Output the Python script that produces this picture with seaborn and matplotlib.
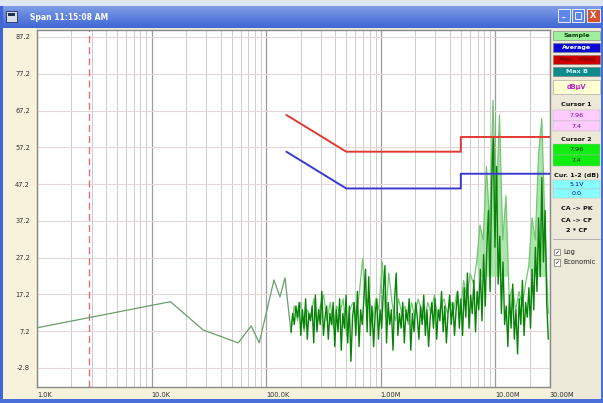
import numpy as np
import pandas as pd
import matplotlib
matplotlib.use("Agg")
import matplotlib.pyplot as plt
from matplotlib.patches import Rectangle
from matplotlib.ticker import FixedLocator, NullFormatter
import seaborn as sns

# ---- axis ticks -------------------------------------------------------------
y_ticks = [-2.8, 7.2, 17.2, 27.2, 37.2, 47.2, 57.2, 67.2, 77.2, 87.2]
x_ticks_hz = [1e3, 1e4, 1e5, 1e6, 1e7, 3e7]
x_tick_labels = ["1.0K", "10.0K", "100.0K", "1.00M", "10.00M", "30.00M"]

# ---- low-frequency part of the trace (kHz, dBuV) -----------------------------
low_freq_khz = [1.0, 14.6, 28.2, 57, 74, 87, 117, 132, 146, 165]
low_level_db = [8.1, 15.2, 7.5, 4.0, 8.6, 4.0, 21.1, 16.5, 21.7, 6.7]

# ---- swept trace 165 kHz .. 29 MHz (dBuV) -----------------------------------
scan_level_db = [
    7, 12, 9, 14, 11,
    15, 6, 13, 8, 16, 5, 12, 10, 14, 4, 17, 7, 13, 9, 18, 6, 11, 14, 5, 12,
    9, 15, 3, 13, 7, 16, 2, 12, 8, 17, 4, 14, -1, 11, 15, 6, 18, 3, 13, 9,
    16, 24, 7, 22,
    6, 14, 3, 12, 16, 5, 13, 8, 18, 25, 4, 15, 9, 13, 2, 16, 23, 6, 12,
    8, 15, 4, 13, 10, 16, 2, 12, 7, 15, 11, 5, 14, 9, 17, 6, 13, 3, 11, 15,
    8, 16, 5, 13, 10, 18, 7, 14, 4, 12, 17, 9, 15, 6, 13, 18, 8,
    16, 6, 19, 11, 23, 8, 17, 12, 21, 7, 18, 13, 24,
    10, 28, 14, 30, 40, 18, 48, 60, 30, 52, 20, 33, 12, 26, 9,
    14, 3, 17, 8, 20, 5, 13, 1, 16, 9, 21, 6, 15, 11, 19,
    8, 24, 13, 30, 18, 38, 22, 49, 26, 40, 15, 5,
]

# ---- peak-hold trace over the same span (dBuV) ------------------------------
peak_level_db = [
    8, 14, 10, 15, 7, 13, 11, 16, 9, 14,
    17, 10, 15, 8, 14, 12, 16, 6, 13, 15,
    11, 18, 27, 14, 17, 10, 16, 13, 26, 11,
    23, 15, 10, 16, 12, 14, 9, 15, 11, 16,
    13, 10, 15, 12, 17, 11, 14, 16, 12, 15,
    13, 18, 12, 21, 16, 23, 20, 26, 36, 32,
    52, 36, 70, 40, 66, 32, 44, 16, 19, 13,
    18, 14, 20, 25, 38, 32, 55, 65, 35, 12,
]

# ---- CISPR 22 class B conducted limits --------------------------------------
limit_freq_mhz = [0.15, 0.5, 5.0, 5.0, 30.0]
qp_limit_db = [66, 56, 56, 60, 60]
avg_limit_db = [56, 46, 46, 50, 50]

cursor_khz = 2.83

# ---- control panel ------------------------------------------------------------
panel_buttons = [
    ("Sample", "#9ef09e", "#0b3d0b"),
    ("Average", "#0a0ad0", "#ffffff"),
    ("Max. Hold", "#d00000", "#7a0000"),
    ("Max B", "#0f8a8a", "#cffcfc"),
]
unit_label = "dBµV"
cursor1_values = ["7.96", "7.4"]
cursor2_values = ["7.96", "7.4"]
delta_values = ["5.1V", "0.0"]
action_labels = ["CA -> PK", "CA -> CF", "2 * CF"]
check_labels = ["Log", "Economic"]

# ---- data frames ----------------------------------------------------------------
low_df = pd.DataFrame({"f": np.array(low_freq_khz) * 1e3, "level": low_level_db})
scan_df = pd.DataFrame({"f": np.geomspace(165e3, 29e6, len(scan_level_db)),
                        "level": scan_level_db})
peak_df = pd.DataFrame({"f": np.geomspace(165e3, 29e6, len(peak_level_db)),
                        "level": peak_level_db})
qp_df = pd.DataFrame({"f": np.array(limit_freq_mhz) * 1e6, "level": qp_limit_db})
av_df = pd.DataFrame({"f": np.array(limit_freq_mhz) * 1e6, "level": avg_limit_db})

sns.set_style("white")
plt.rcParams["font.family"] = ["DejaVu Sans"]

W, H = 603, 403
fig = plt.figure(figsize=(W / 100, H / 100), dpi=100)
fig.patch.set_facecolor("#ece9d8")

# window chrome drawn in pixel coordinates
bg = fig.add_axes([0, 0, 1, 1], zorder=0)
bg.set_xlim(0, W)
bg.set_ylim(H, 0)
bg.axis("off")

def box(x0, y0, x1, y1, fc, ec="none", lw=0.0, z=1):
    bg.add_patch(Rectangle((x0, y0), x1 - x0, y1 - y0, facecolor=fc,
                           edgecolor=ec, linewidth=lw, zorder=z))

box(0, 0, W, H, "#ece9d8")
box(3, 28, 37, 399, "#f6f2dc")          # left scale strip
box(3, 387, 552, 399, "#f6f2dc")        # bottom scale strip
# title bar
grad = np.linspace(0, 1, 64).reshape(-1, 1)
bg.imshow(grad, extent=(0, W, 28, 6), aspect="auto", zorder=1,
          cmap=matplotlib.colors.LinearSegmentedColormap.from_list(
              "tb", ["#7f9de6", "#3f66d4"]))
box(0, 0, W, 6, "#dfe6f5")
box(0, 6, 3, H, "#3f66d4")
box(0, 399, W, H, "#4a6fd6")
box(601, 6, W, H, "#4a6fd6")
box(6, 11, 17, 22, "#d9dde8", ec="#20305a", lw=0.6, z=2)
box(8, 13, 15, 16, "#20305a", z=3)
bg.text(30, 17, "Span 11:15:08 AM", color="white", fontsize=5.5,
        fontweight="bold", va="center", ha="left", zorder=3)
box(558, 9, 570, 22, "#5d86e8", ec="white", lw=0.6, z=2)
bg.text(564, 18, "_", color="white", fontsize=5, ha="center", va="bottom",
        zorder=3, fontweight="bold")
box(572, 9, 584, 22, "#5d86e8", ec="white", lw=0.6, z=2)
box(575, 12, 581, 19, "none", ec="white", lw=0.6, z=3)
box(587, 9, 600, 22, "#d9502c", ec="white", lw=0.6, z=2)
bg.text(593.5, 15.5, "X", color="white", fontsize=6, ha="center",
        va="center", zorder=3, fontweight="bold")

# right control panel
y = 31
for label, fc, tc in panel_buttons:
    box(553, y, 600, y + 9, fc, ec="#7a7a7a", lw=0.4, z=2)
    bg.text(576.5, y + 4.7, label, color=tc, fontsize=4.6, ha="center",
            va="center", fontweight="bold", zorder=3)
    y += 12
box(553, 80, 600, 94, "#ffffd2", ec="#9a9a9a", lw=0.4, z=2)
bg.text(576.5, 87, unit_label, color="#c020c0", fontsize=4.8, ha="center",
        va="center", fontweight="bold", zorder=3)

def value_block(title, ytitle, values, fc, tc, ystart, h):
    bg.text(576.5, ytitle, title, color="#101010", fontsize=4.6,
            ha="center", va="center", fontweight="bold", zorder=3)
    for k, v in enumerate(values):
        y0 = ystart + k * h
        box(553, y0, 600, y0 + h, fc, ec="#b0b0b0", lw=0.3, z=2)
        bg.text(576.5, y0 + h / 2 + 0.3, v, color=tc, fontsize=4.6,
                ha="center", va="center", zorder=3)

value_block("Cursor 1", 105, cursor1_values, "#ffccff", "#8a00a8", 110, 10.5)
value_block("Cursor 2", 139.5, cursor2_values, "#10ee10", "#0a2a0a", 144, 11)
value_block("Cur. 1-2 (dB)", 175, delta_values, "#88ffff", "#0000c0", 180, 9)
for k, lab in enumerate(action_labels):
    bg.text(576.5, 209 + k * 11, lab, color="#101010", fontsize=4.6,
            ha="center", va="center", fontweight="bold", zorder=3)
bg.plot([553, 600], [239, 239], color="#9a9a9a", lw=0.5, zorder=3)
for k, lab in enumerate(check_labels):
    yy = 252 + k * 10.5
    box(554, yy - 3.3, 560, yy + 3.3, "white", ec="#505050", lw=0.4, z=2)
    bg.text(557, yy + 0.3, "✓", color="#202020", fontsize=4.5, ha="center",
            va="center", zorder=3)
    bg.text(563, yy, lab, color="#202020", fontsize=4.8, ha="left",
            va="center", zorder=3)

# ---- spectrum axes ----------------------------------------------------------------
ax = fig.add_axes([37 / W, (H - 387) / H, (550 - 37) / W, (387 - 30) / H],
                  zorder=2)
ax.set_facecolor("white")
ax.set_xscale("log")
ax.set_xlim(1e3, 3e7)
ax.set_ylim(-8.0, 89.1)

ax.xaxis.set_minor_locator(FixedLocator(
    [m * 10 ** d for d in range(3, 8) for m in range(2, 10) if m * 10 ** d < 3e7]))
ax.xaxis.set_minor_formatter(NullFormatter())
ax.set_xticks(x_ticks_hz)
ax.set_xticklabels(x_tick_labels)
ax.set_yticks(y_ticks)
ax.set_yticklabels([f"{v:.1f}" for v in y_ticks])
ax.grid(which="major", axis="x", color="#9c9c9c", lw=0.9)
ax.grid(which="minor", axis="x", color="#cdcdcd", lw=0.7)
ax.grid(which="major", axis="y", color="#e6d6d6", lw=0.8)
ax.set_axisbelow(True)
ax.tick_params(axis="both", which="major", length=3, width=0.6,
               color="#404040", labelsize=4.8, labelcolor="#303030", pad=2)
ax.tick_params(axis="x", which="major", pad=0.5)
ax.tick_params(axis="x", which="minor", length=0)
for lbl in ax.get_xticklabels():
    lbl.set_ha("left")
for s in ax.spines.values():
    s.set_color("#8a8a8a")
    s.set_linewidth(1.0)

ax.axvline(cursor_khz * 1e3, color="#e07070", lw=1.0, ls=(0, (5, 3)), zorder=2)

# shaded emission columns under the peak-hold trace
peak_vals = peak_df["level"].to_numpy()
ax.fill_between(peak_df["f"], peak_vals, 22, where=peak_vals > 30,
                interpolate=True, color="#9bdc9b", alpha=0.8, lw=0, zorder=3)
sns.lineplot(data=peak_df, x="f", y="level", ax=ax, color="#72c872",
             lw=0.9, estimator=None, sort=False, zorder=3)
sns.lineplot(data=low_df, x="f", y="level", ax=ax, color="#6a9d6a",
             lw=0.9, estimator=None, sort=False, zorder=4)
sns.lineplot(data=scan_df, x="f", y="level", ax=ax, color="#078407",
             lw=1.0, estimator=None, sort=False, zorder=4)
sns.lineplot(data=qp_df, x="f", y="level", ax=ax, color="#e23a32",
             lw=1.4, estimator=None, sort=False, zorder=5)
sns.lineplot(data=av_df, x="f", y="level", ax=ax, color="#3a3ad2",
             lw=1.4, estimator=None, sort=False, zorder=5)
ax.set_xlabel("")
ax.set_ylabel("")

fig.savefig("out.png", dpi=100, facecolor=fig.get_facecolor())
